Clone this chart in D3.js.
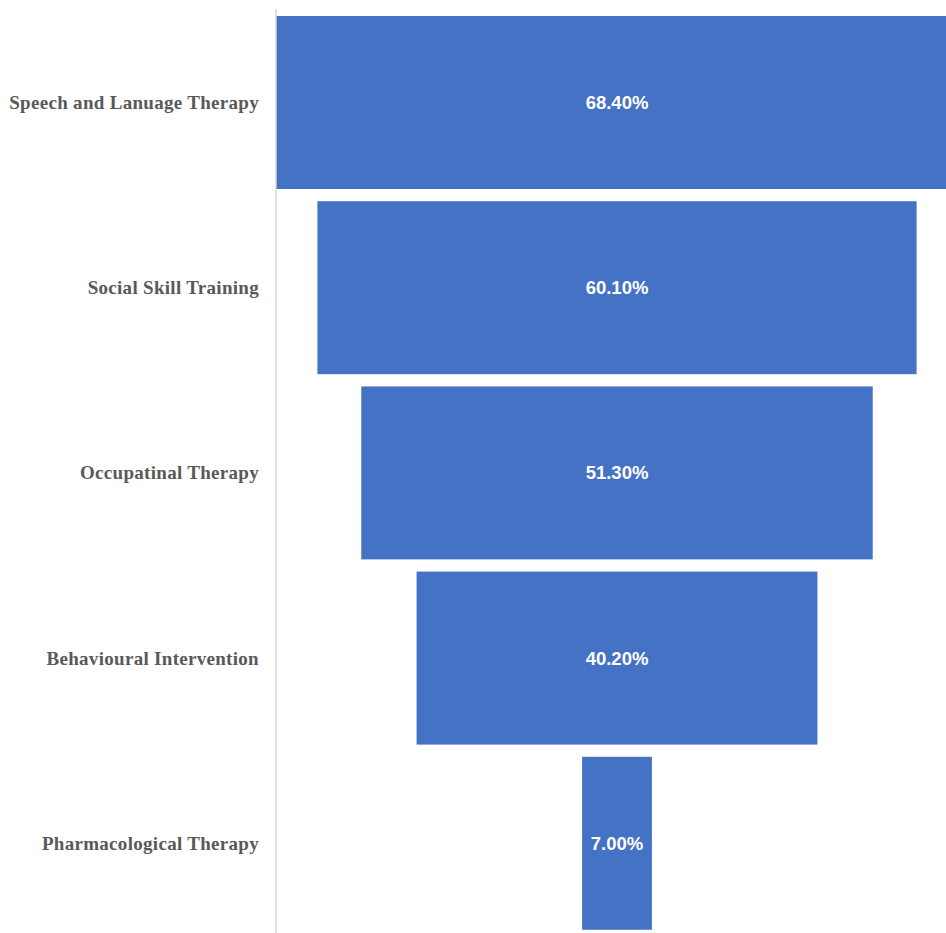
<!DOCTYPE html>
<html>
<head>
<meta charset="utf-8">
<script src="https://cdn.jsdelivr.net/npm/d3@7"></script>
<style>
  html, body { margin: 0; padding: 0; background: #ffffff; }
  svg { display: block; }
</style>
</head>
<body>
<svg id="chart" width="946" height="933"></svg>
<script>
// Therapy categories, top to bottom of the funnel
const categories = [
  "Speech and Lanuage Therapy",
  "Social Skill Training",
  "Occupatinal Therapy",
  "Behavioural Intervention",
  "Pharmacological Therapy"
];
// Share of respondents for each therapy (%)
const values = [68.4, 60.1, 51.3, 40.2, 7.0];
const valueLabels = ["68.40%", "60.10%", "51.30%", "40.20%", "7.00%"];

const svg = d3.select("#chart");
const W = 946, H = 933;

const axisX = 276;      // category axis line
const centerX = 617;    // funnel centre line

const y = d3.scaleBand()
  .domain(categories)
  .range([3.8, 942])
  .padding(0.066);

const w = d3.scaleLinear()
  .domain([0, 100])
  .range([0, 997]);

const rows = categories.map((c, i) => ({ cat: c, v: values[i], label: valueLabels[i] }));

// funnel bars, centred on a common axis
svg.append("g").selectAll("rect")
  .data(rows)
  .join("rect")
  .attr("x", d => centerX - w(d.v) / 2)
  .attr("y", d => y(d.cat))
  .attr("width", d => w(d.v))
  .attr("height", y.bandwidth())
  .attr("fill", "#4472C4");

// vertical category axis line
svg.append("line")
  .attr("x1", axisX).attr("x2", axisX)
  .attr("y1", 9).attr("y2", H)
  .attr("stroke", "#d9d9d9")
  .attr("stroke-width", 1.5);

// category labels
svg.append("g").selectAll("text")
  .data(rows)
  .join("text")
  .attr("x", 259)
  .attr("y", d => y(d.cat) + y.bandwidth() / 2)
  .attr("text-anchor", "end")
  .attr("dominant-baseline", "central")
  .attr("font-family", "'Liberation Serif', 'Times New Roman', serif")
  .attr("font-weight", "bold")
  .attr("font-size", 19)
  .attr("letter-spacing", 0.3)
  .attr("fill", "#595959")
  .text(d => d.cat);

// value labels inside bars
svg.append("g").selectAll("text")
  .data(rows)
  .join("text")
  .attr("x", centerX)
  .attr("y", d => y(d.cat) + y.bandwidth() / 2)
  .attr("text-anchor", "middle")
  .attr("dominant-baseline", "central")
  .attr("font-family", "'Liberation Sans', Arial, sans-serif")
  .attr("font-weight", "bold")
  .attr("font-size", 18.5)
  .attr("fill", "#ffffff")
  .text(d => d.label);
</script>
</body>
</html>
